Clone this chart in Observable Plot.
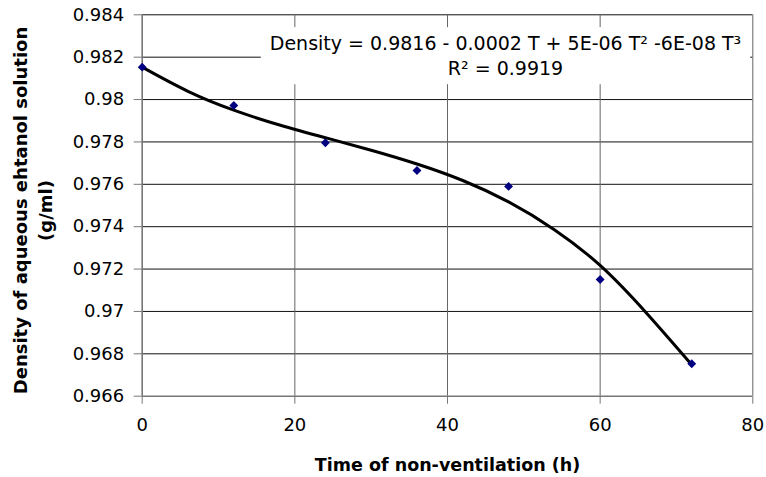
<!DOCTYPE html>
<html><head><meta charset="utf-8">
<script src="https://cdn.jsdelivr.net/npm/d3@7"></script>
<script src="https://cdn.jsdelivr.net/npm/@observablehq/plot@0.6"></script>
<style>html,body{margin:0;padding:0;background:#fff}</style>
</head><body><div id="chart"></div>
<script>
// Measured data (time in hours, density in g/ml)
const hours = [0, 12, 24, 36, 48, 60, 72];
const density = [0.98153, 0.97972, 0.97796, 0.97665, 0.9759, 0.97151, 0.96753];

// Trend line (cubic fit)
const fitHours = [0, 6, 12, 18, 24, 30, 36, 42, 48, 54, 60, 66, 72];
const fitDensity = [0.98153, 0.98039, 0.9795, 0.9788, 0.9782, 0.97761, 0.97696, 0.97618, 0.97517, 0.97386, 0.97217, 0.96995, 0.96748];

// Axes
const xTicks = [0, 20, 40, 60, 80];
const xTickLabels = ["0", "20", "40", "60", "80"];
const yTicks = [0.966, 0.968, 0.97, 0.972, 0.974, 0.976, 0.978, 0.98, 0.982, 0.984];
const yTickLabels = ["0.966", "0.968", "0.97", "0.972", "0.974", "0.976", "0.978", "0.98", "0.982", "0.984"];

// Texts
const xTitle = "Time of non-ventilation (h)";
const yTitle = "Density of aqueous ehtanol solution\n(g/ml)";
const equationText = "Density = 0.9816 - 0.0002 T + 5E-06 T² -6E-08 T³\nR² = 0.9919";
const equationAt = {t: 47.6, v: 0.98212};

const points = hours.map((t, i) => ({t, v: density[i]}));
const fit = fitHours.map((t, i) => ({t, v: fitDensity[i]}));
const xLab = new Map(xTicks.map((d, i) => [d, xTickLabels[i]]));
const yLab = new Map(yTicks.map((d, i) => [d, yTickLabels[i]]));

const chart = Plot.plot({
  width: 766,
  height: 477,
  marginLeft: 141.7,
  marginRight: 13.7,
  marginTop: 14.3,
  marginBottom: 81.3,
  style: {fontFamily: "DejaVu Sans", fontSize: "18px", color: "#000", background: "#fff"},
  x: {domain: [0, 80]},
  y: {domain: [0.966, 0.984]},
  marks: [
    Plot.ruleY(yTicks.slice(1), {stroke: "#111", strokeWidth: 1}),
    Plot.ruleX(xTicks.slice(1), {stroke: "#666", strokeWidth: 1}),
    Plot.text([{...equationAt, label: equationText}], {
      x: "t", y: "v", text: "label", fontSize: 19, lineHeight: 1.32,
      textAnchor: "middle", lineAnchor: "middle", fill: "#000"
    }),
    Plot.ruleX([0], {stroke: "#777", strokeWidth: 1.6}),
    Plot.ruleY([0.966], {stroke: "#777", strokeWidth: 1.6}),
    Plot.axisY({ticks: yTicks, tickFormat: d => yLab.get(d), tickSize: 8, tickPadding: 10, stroke: "#777", label: null}),
    Plot.axisX({ticks: xTicks, tickFormat: d => xLab.get(d), tickSize: 8, tickPadding: 14, stroke: "#777", label: null}),
    Plot.line(fit, {x: "t", y: "v", stroke: "#000", strokeWidth: 3, curve: "natural"}),
    Plot.dot(points, {x: "t", y: "v", symbol: "diamond2", r: 4, fill: "#000080", stroke: "none"}),
    Plot.text([xTitle], {frameAnchor: "bottom", dy: 69.3, fontWeight: "bold", fontSize: 17.5, textAnchor: "middle", lineAnchor: "middle"}),
    Plot.text([yTitle], {frameAnchor: "left", rotate: -90, dx: -110.5, dy: 5, fontWeight: "bold", fontSize: 18, lineHeight: 1.4, textAnchor: "middle", lineAnchor: "middle"})
  ]
});
document.getElementById("chart").appendChild(chart);

// White background box behind the equation label (sized from the text itself)
const svg = chart.tagName.toLowerCase() === "svg" ? chart : chart.querySelector("svg");
for (const t of svg.querySelectorAll("text")) {
  if (t.textContent.startsWith("Density =")) {
    const b = t.getBBox();
    const padX = 9, padY = 5;
    const rect = document.createElementNS("http://www.w3.org/2000/svg", "rect");
    rect.setAttribute("x", b.x - padX);
    rect.setAttribute("y", b.y - padY);
    rect.setAttribute("width", b.width + 2 * padX);
    rect.setAttribute("height", b.height + 2 * padY);
    rect.setAttribute("fill", "#fff");
    const tr = t.getAttribute("transform");
    if (tr) rect.setAttribute("transform", tr);
    t.parentNode.insertBefore(rect, t);
    break;
  }
}
</script>
</body></html>
